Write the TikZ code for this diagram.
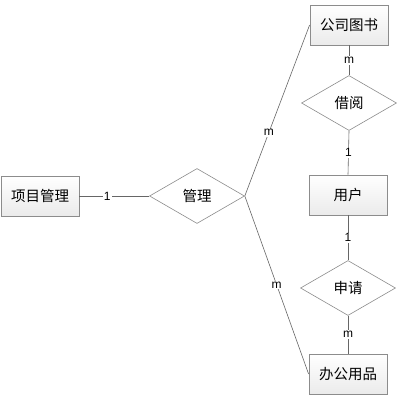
\documentclass[tikz,border=0pt]{standalone}
\usepackage{fontspec}
\newfontfamily\cjk{Noto Sans CJK SC}
\setsansfont{Liberation Sans}
\usetikzlibrary{shapes.geometric,shadows}
\begin{document}
\begin{tikzpicture}[x=1pt,y=-1pt,
  ent/.style={draw=black!45, line width=0.8pt, top color=white, bottom color=black!8,
    minimum width=78pt, minimum height=40pt, inner sep=0pt, font=\cjk\fontsize{14.5}{16}\selectfont,
    drop shadow={shadow xshift=1.2pt, shadow yshift=-1.2pt, fill=black!25}},
  rel/.style={diamond, draw=black!45, line width=0.6pt, fill=white, aspect=1.727,
    minimum width=95pt, minimum height=55pt, inner sep=0pt, font=\cjk\fontsize{14.5}{16}\selectfont},
  conn/.style={draw=black!60, line width=0.6pt},
  lab/.style={fill=white, inner sep=1pt, font=\sffamily\fontsize{12}{13}\selectfont}]
\useasboundingbox (0,0) rectangle (401,401);
\fill[white] (0,0) rectangle (401,401);
\node[ent] (xm) at (40,196) {项目管理};
\node[rel] (gl) at (197,196) {管理};
\node[ent] (ts) at (349,25) {公司图书};
\node[rel] (jy) at (349,103) {借阅};
\node[ent] (yh) at (348,195) {用户};
\node[rel] (sq) at (348,288) {申请};
\node[ent] (bg) at (348,374) {办公用品};
\draw[conn] (xm.east) -- node[lab,pos=0.4] {1} (gl.west);
\draw[conn] (gl.east) -- node[lab,pos=0.37] {m} (ts.west);
\draw[conn] (gl.east) -- node[lab,pos=0.5] {m} (bg.west);
\draw[conn] (ts.south) -- node[lab] {m} (jy.north);
\draw[conn] (jy.south) -- node[lab] {1} (yh.north);
\draw[conn] (yh.south) -- node[lab] {1} (sq.north);
\draw[conn] (sq.south) -- node[lab] {m} (bg.north);
\end{tikzpicture}
\end{document}
